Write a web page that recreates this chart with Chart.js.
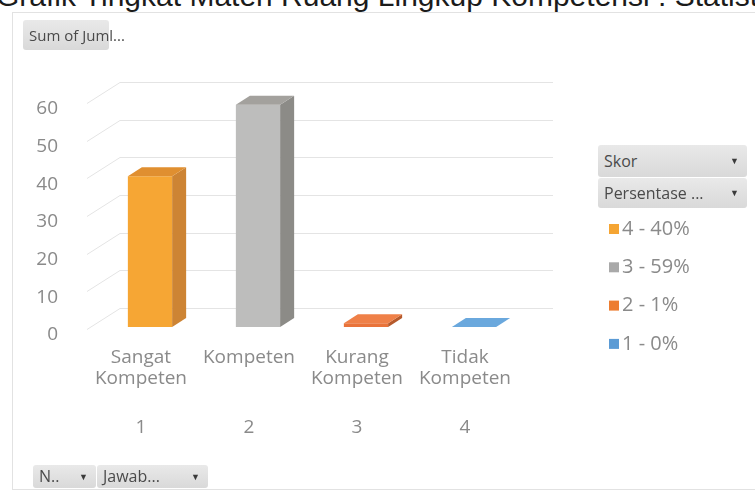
<!DOCTYPE html>
<html>
<head>
<meta charset="utf-8">
<script src="https://cdn.jsdelivr.net/npm/chart.js@4.4.1/dist/chart.umd.min.js"></script>
<style>
  html, body { margin: 0; padding: 0; background: #fff; }
  body { width: 755px; height: 494px; position: relative; overflow: hidden; font-family: 'Open Sans', sans-serif; }
  #heading { position: absolute; left: -4px; top: -21px; white-space: nowrap; font: 30px 'Liberation Sans', Arial, sans-serif; color: #1b1b1b; }
  #panel { position: absolute; left: 12px; top: 12px; width: 750px; height: 478px; border: 1px solid #e2e2e2; box-sizing: border-box; }
  canvas { position: absolute; left: 0; top: 0; }
  .btn { position: absolute; box-sizing: border-box; background: linear-gradient(#e9e9e9, #d9d9d9); border-radius: 3px;
         color: #4a4a4a; font-size: 16px; padding-left: 6px; white-space: nowrap; }
  .btn .arr { position: absolute; right: 8px; top: 0; font-size: 9px; color: #3a3a3a; }
</style>
</head>
<body>
<div id="heading">Grafik Tingkat Materi Ruang Lingkup Kompetensi : Statistik</div>
<div id="panel"></div>
<canvas id="chart" width="755" height="494"></canvas>

<div class="btn" style="left:23px;top:20px;width:86px;height:30px;line-height:30px;font-size:15px;">Sum of Juml...</div>
<div class="btn" style="left:598px;top:145px;width:149px;height:32px;line-height:32px;">Skor<span class="arr">&#9660;</span></div>
<div class="btn" style="left:598px;top:178px;width:149px;height:30px;line-height:30px;">Persentase ...<span class="arr">&#9660;</span></div>
<div class="btn" style="left:33px;top:465px;width:63px;height:23px;line-height:23px;">N..<span class="arr">&#9660;</span></div>
<div class="btn" style="left:97px;top:465px;width:111px;height:23px;line-height:23px;">Jawab...<span class="arr">&#9660;</span></div>

<script>
  // ---- data -------------------------------------------------
  const jawaban   = [['Sangat', 'Kompeten'], ['Kompeten'], ['Kurang', 'Kompeten'], ['Tidak', 'Kompeten']];
  const nomor     = ['1', '2', '3', '4'];
  const jumlah    = [40, 59, 1, 0];
  const skorLabel = ['4 - 40%', '3 - 59%', '2 - 1%', '1 - 0%'];

  // ---- colours (front / side / top faces) ------------------
  const FRONT = ['#f6a634', '#bdbdbc', '#e9733a', '#5b9bd5'];
  const SIDE  = ['#cd8434', '#8c8b87', '#b65a2c', '#3f7db4'];
  const TOP   = ['#e08f30', '#a3a19d', '#ef8048', '#6aa8dd'];
  const KEY   = ['#f5a533', '#a9a9a9', '#ed7d31', '#5b9bd5'];
  const TEXT  = '#8a8a8a';
  const GRID  = '#e4e4e4';

  // bar extrusion and back-wall offset, px
  const DX = 14, DY = 9;
  const WALL_DX = 24, WALL_DY = 19;

  Chart.defaults.font.family = "'Open Sans', sans-serif";

  // side wall + back wall gridlines, then the extruded faces of each column
  const columns3d = {
    id: 'columns3d',
    beforeDatasetsDraw(chart) {
      const { ctx, chartArea: a, scales: { y } } = chart;
      ctx.save();
      ctx.strokeStyle = GRID;
      ctx.lineWidth = 1;
      y.ticks.forEach(t => {
        const py = Math.round(y.getPixelForValue(t.value)) + 0.5;
        ctx.beginPath();
        ctx.moveTo(a.left - 9, py + 2);
        ctx.lineTo(a.left + WALL_DX, py - WALL_DY);
        ctx.lineTo(a.right + 25, py - WALL_DY);
        ctx.stroke();
      });
      ctx.restore();
    },
    afterDatasetsDraw(chart) {
      const ctx = chart.ctx;
      const meta = chart.getDatasetMeta(0);
      ctx.save();
      meta.data.forEach((bar, i) => {
        const { x, y, base, width } = bar.getProps(['x', 'y', 'base', 'width'], true);
        const l = x - width / 2, r = x + width / 2;
        ctx.fillStyle = SIDE[i];
        ctx.beginPath();
        ctx.moveTo(r, y); ctx.lineTo(r + DX, y - DY);
        ctx.lineTo(r + DX, base - DY); ctx.lineTo(r, base);
        ctx.closePath(); ctx.fill();
        ctx.fillStyle = TOP[i];
        ctx.beginPath();
        ctx.moveTo(l, y); ctx.lineTo(l + DX, y - DY);
        ctx.lineTo(r + DX, y - DY); ctx.lineTo(r, y);
        ctx.closePath(); ctx.fill();
      });
      ctx.restore();
    }
  };

  // "Skor - Persentase" key under the field buttons
  const skorKey = {
    id: 'skorKey',
    afterDraw(chart) {
      const ctx = chart.ctx;
      ctx.save();
      ctx.font = "20px 'Open Sans', sans-serif";
      ctx.textBaseline = 'middle';
      skorLabel.forEach((t, i) => {
        const cy = 229 + i * 38.3;
        ctx.fillStyle = KEY[i];
        ctx.fillRect(609, cy - 5, 10, 10);
        ctx.fillStyle = TEXT;
        ctx.fillText(t, 622, cy);
      });
      ctx.restore();
    }
  };

  new Chart(document.getElementById('chart'), {
    type: 'bar',
    data: {
      labels: jawaban,
      datasets: [{
        label: 'Sum of Jumlah',
        data: jumlah,
        backgroundColor: FRONT,
        borderWidth: 0,
        barPercentage: 0.41,
        categoryPercentage: 1
      }]
    },
    options: {
      responsive: false,
      animation: false,
      layout: { padding: { top: 101, left: 30, right: 227, bottom: 47 } },
      plugins: { legend: { display: false }, tooltip: { enabled: false } },
      scales: {
        x: {
          position: 'bottom',
          weight: 0,
          grid: { display: false },
          border: { display: false },
          ticks: { color: TEXT, font: { size: 19, lineHeight: '21px' }, padding: 12, labelOffset: -9, maxRotation: 0, autoSkip: false },
          afterFit: s => { s.height = 80; }
        },
        xNum: {
          type: 'category',
          labels: nomor,
          position: 'bottom',
          weight: 1,
          offset: true,
          grid: { display: false },
          border: { display: false },
          ticks: { color: TEXT, font: { size: 19, lineHeight: '18px' }, padding: 4, labelOffset: -9, maxRotation: 0, autoSkip: false },
          afterFit: s => { s.height = 40; }
        },
        y: {
          min: 0,
          max: 60,
          grid: { display: false },
          border: { display: false },
          ticks: { stepSize: 10, color: TEXT, font: { size: 19 }, padding: 30, labelOffset: 8 },
          afterFit: s => { s.width = 66; }
        }
      }
    },
    plugins: [columns3d, skorKey]
  });
</script>
</body>
</html>
